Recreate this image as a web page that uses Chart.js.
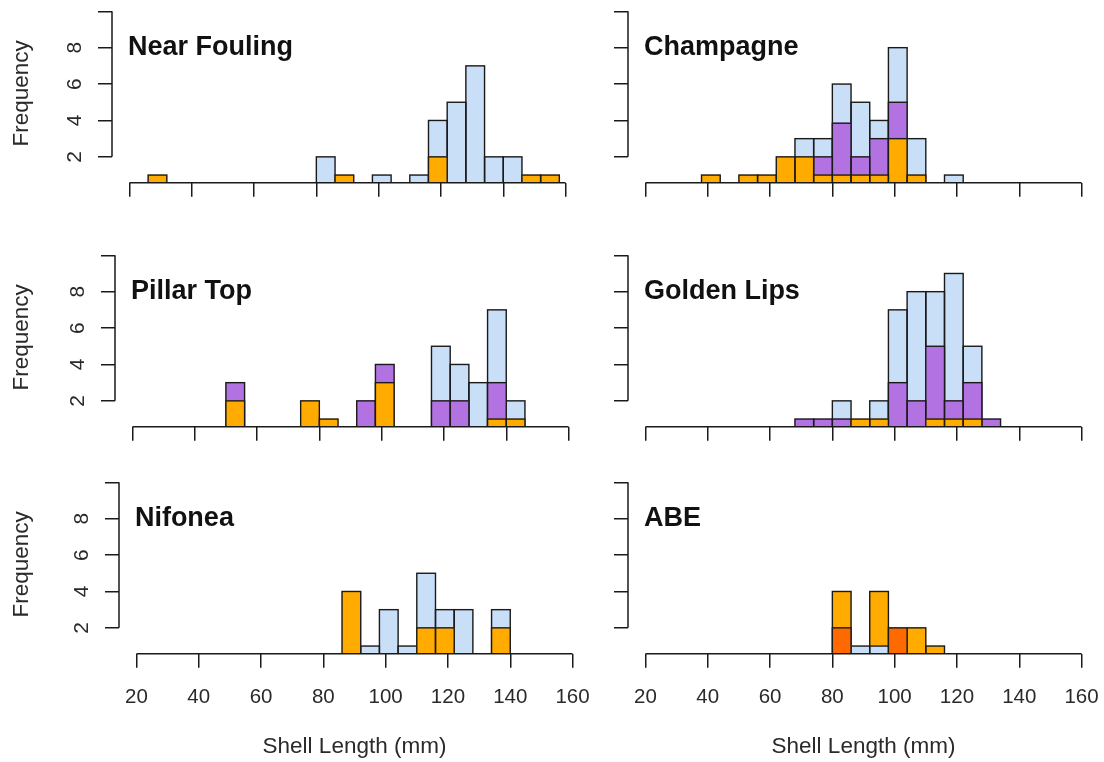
<!DOCTYPE html>
<html>
<head>
<meta charset="utf-8">
<title>Shell length by site</title>
<script src="https://cdn.jsdelivr.net/npm/chart.js@4.4.1/dist/chart.umd.min.js"></script>
<style>
  html, body { margin: 0; padding: 0; background: #fff; overflow: hidden; }
  #wrap { position: relative; width: 1104px; height: 762px; }
  #wrap canvas { position: absolute; }
</style>
</head>
<body>
<div id="wrap"></div>
<script>
// 6 mm bins starting at 20 mm (mid points)
const binMids = [23, 29, 35, 41, 47, 53, 59, 65, 71, 77, 83, 89, 95, 101, 107, 113, 119, 125, 131, 137, 143, 149, 155];
const xTicks = [20, 40, 60, 80, 100, 120, 140, 160];
const yTicks = [2, 4, 6, 8, 10];
const yTickLabels = ["2", "4", "6", "8", ""];

// counts
const nearFoulingBlue   = [0,0,0,0,0,0,0,0,0,0,2,0,0,1,0,1,4,5,7,2,2,0,0];
const nearFoulingOrange = [0,1,0,0,0,0,0,0,0,0,0,1,0,0,0,0,2,0,0,0,0,1,1];

const champagneBlue   = [0,0,0,0,0,0,0,0,3,3,6,5,4,8,3,0,1,0,0,0,0,0,0];
const champagnePurple = [0,0,0,0,0,0,0,0,0,2,3.85,2,3,5,0,0,0,0,0,0,0,0,0];
const champagneOrange = [0,0,0,1,0,1,1,2,2,1,1,1,1,3,1,0,0,0,0,0,0,0,0];

const pillarTopBlue   = [0,0,0,0,0,0,0,0,0,0,0,0,0,0,0,0,5,4,3,7,2,0,0];
const pillarTopPurple = [0,0,0,0,0,3,0,0,0,0,0,0,2,4,0,0,2,2,0,3,0,0,0];
const pillarTopOrange = [0,0,0,0,0,2,0,0,0,2,1,0,0,3,0,0,0,0,0,1,1,0,0];

const goldenLipsBlue   = [0,0,0,0,0,0,0,0,0,0,2,0,2,7,8,8,9,5,0,0,0,0,0];
const goldenLipsPurple = [0,0,0,0,0,0,0,0,1,1,1,0,0,3,2,5,2,3,1,0,0,0,0];
const goldenLipsOrange = [0,0,0,0,0,0,0,0,0,0,0,1,1,0,0,1,1,1,0,0,0,0,0];

const nifoneaBlue   = [0,0,0,0,0,0,0,0,0,0,0,0,1,3,1,5,3,3,0,3,0,0,0];
const nifoneaOrange = [0,0,0,0,0,0,0,0,0,0,0,4,0,0,0,2,2,0,0,2,0,0,0];

const abeOrange = [0,0,0,0,0,0,0,0,0,0,4,0,4,0,2,1,0,0,0,0,0,0,0];
const abeBlue   = [0,0,0,0,0,0,0,0,0,0,0,1,1,0,0,0,0,0,0,0,0,0,0];
const abeRed    = [0,0,0,0,0,0,0,0,0,0,2,0,0,2,0,0,0,0,0,0,0,0,0];

const BLUE = "#c9def7", PURPLE = "#b272e2", ORANGE = "#ffab00", RED = "#ff6a00";

// series are listed in drawing order (first one is painted first)
const panels = [
  { title: "Near Fouling", left: 0, top: 0, col: 0, bottom: false,
    series: [[nearFoulingBlue, BLUE], [nearFoulingOrange, ORANGE]] },
  { title: "Champagne", left: 516, top: 0, col: 1, bottom: false,
    series: [[champagneBlue, BLUE], [champagnePurple, PURPLE], [champagneOrange, ORANGE]] },
  { title: "Pillar Top", left: 3, top: 244, col: 0, bottom: false,
    series: [[pillarTopBlue, BLUE], [pillarTopPurple, PURPLE], [pillarTopOrange, ORANGE]] },
  { title: "Golden Lips", left: 516, top: 244, col: 1, bottom: false,
    series: [[goldenLipsBlue, BLUE], [goldenLipsPurple, PURPLE], [goldenLipsOrange, ORANGE]] },
  { title: "Nifonea", left: 7, top: 471, col: 0, bottom: true,
    series: [[nifoneaBlue, BLUE], [nifoneaOrange, ORANGE]] },
  { title: "ABE", left: 516, top: 471, col: 1, bottom: true,
    series: [[abeOrange, ORANGE], [abeBlue, BLUE], [abeRed, RED]] }
];

const AREA_W = 471, AREA_H = 178.7, PAD_L = 112, PAD_T = 4, PAD_R = 4;
const FONT = '"Liberation Sans", Arial, Helvetica, sans-serif';
const INK = "#1a1a1a";

const panelDecor = {
  id: "panelDecor",
  afterDatasetDraw(chart, args) {
    const { ctx, chartArea: a } = chart;
    const ds = chart.data.datasets[args.index];
    ctx.save();
    ctx.beginPath();
    ctx.rect(a.left, a.top, a.right - a.left, a.bottom - a.top);
    ctx.clip();
    ctx.strokeStyle = INK;
    ctx.lineWidth = 1.4;
    args.meta.data.forEach((bar, k) => {
      if (ds.data[k].y === null) return;
      ctx.strokeRect(bar.x - bar.width / 2, bar.y, bar.width, bar.base - bar.y);
    });
    ctx.restore();
  },
  afterDraw(chart, args, opts) {
    const { ctx, chartArea: a, scales: { x, y } } = chart;
    ctx.save();
    // axis lines only over the tick range, like base R
    ctx.strokeStyle = INK;
    ctx.lineWidth = 1.5;
    ctx.beginPath();
    ctx.moveTo(x.getPixelForValue(xTicks[0]), a.bottom);
    ctx.lineTo(x.getPixelForValue(xTicks[xTicks.length - 1]), a.bottom);
    ctx.moveTo(a.left, y.getPixelForValue(yTicks[0]));
    ctx.lineTo(a.left, y.getPixelForValue(yTicks[yTicks.length - 1]));
    ctx.stroke();

    // rotated y tick labels
    if (opts.yLabels) {
      ctx.font = "21px " + FONT;
      ctx.fillStyle = "#2a2a2a";
      ctx.textAlign = "center";
      ctx.textBaseline = "middle";
      yTicks.forEach((v, i) => {
        if (!yTickLabels[i]) return;
        ctx.save();
        ctx.translate(a.left - 37, y.getPixelForValue(v));
        ctx.rotate(-Math.PI / 2);
        ctx.fillText(yTickLabels[i], 0, 0);
        ctx.restore();
      });
    }

    // site name
    ctx.font = "bold 27px " + FONT;
    ctx.fillStyle = "#111";
    ctx.textAlign = "left";
    ctx.textBaseline = "middle";
    ctx.fillText(opts.title, x.getPixelForValue(19.5), y.getPixelForValue(8));
    ctx.restore();
  }
};

const wrap = document.getElementById("wrap");

panels.forEach(p => {
  const c = document.createElement("canvas");
  const w = PAD_L + AREA_W + PAD_R;
  const h = p.bottom ? 291 : 204;
  c.width = w;
  c.height = h;
  c.style.left = p.left + "px";
  c.style.top = p.top + "px";
  wrap.appendChild(c);

  const n = p.series.length;
  new Chart(c, {
    type: "bar",
    data: {
      datasets: p.series.map(([vals, color], i) => ({
        data: binMids.map((m, k) => ({ x: m, y: vals[k] > 0 ? vals[k] : null })),
        backgroundColor: color,
        borderWidth: 0,
        grouped: false,
        order: n - i,
        barPercentage: 1,
        categoryPercentage: 1,
        clip: 0
      }))
    },
    options: {
      responsive: false,
      animation: false,
      events: [],
      layout: { padding: { left: 0, top: PAD_T, right: PAD_R, bottom: 0 } },
      plugins: {
        legend: { display: false },
        tooltip: { enabled: false },
        panelDecor: { title: p.title, yLabels: p.col === 0 }
      },
      scales: {
        x: {
          type: "linear",
          min: 14.4,
          max: 165.6,
          offset: false,
          afterBuildTicks: s => { s.ticks = xTicks.map(v => ({ value: v })); },
          afterFit: s => { s.height = h - PAD_T - AREA_H; s.paddingLeft = 0; s.paddingRight = 0; },
          border: { display: false },
          grid: { offset: false, drawOnChartArea: false, drawTicks: true, tickLength: 14, color: INK, lineWidth: 1.5 },
          ticks: {
            display: p.bottom,
            autoSkip: false,
            maxRotation: 0,
            padding: 17,
            color: "#2a2a2a",
            font: { family: FONT, size: 20.5 }
          },
          title: {
            display: p.bottom,
            text: "Shell Length (mm)",
            color: "#2a2a2a",
            font: { family: FONT, size: 22.5 },
            padding: { top: 0, bottom: 2 }
          }
        },
        y: {
          min: 0.58,
          max: 10.4,
          afterBuildTicks: s => { s.ticks = yTicks.map(v => ({ value: v })); },
          afterFit: s => { s.width = PAD_L; },
          border: { display: false },
          grid: { drawOnChartArea: false, drawTicks: true, tickLength: 14, color: INK, lineWidth: 1.5 },
          ticks: { display: false },
          title: {
            display: p.col === 0,
            text: "Frequency",
            color: "#2a2a2a",
            font: { family: FONT, size: 22.5 },
            padding: { top: 22 - p.left - 13.5, bottom: 0 }
          }
        }
      }
    },
    plugins: [panelDecor]
  });
});
</script>
</body>
</html>
